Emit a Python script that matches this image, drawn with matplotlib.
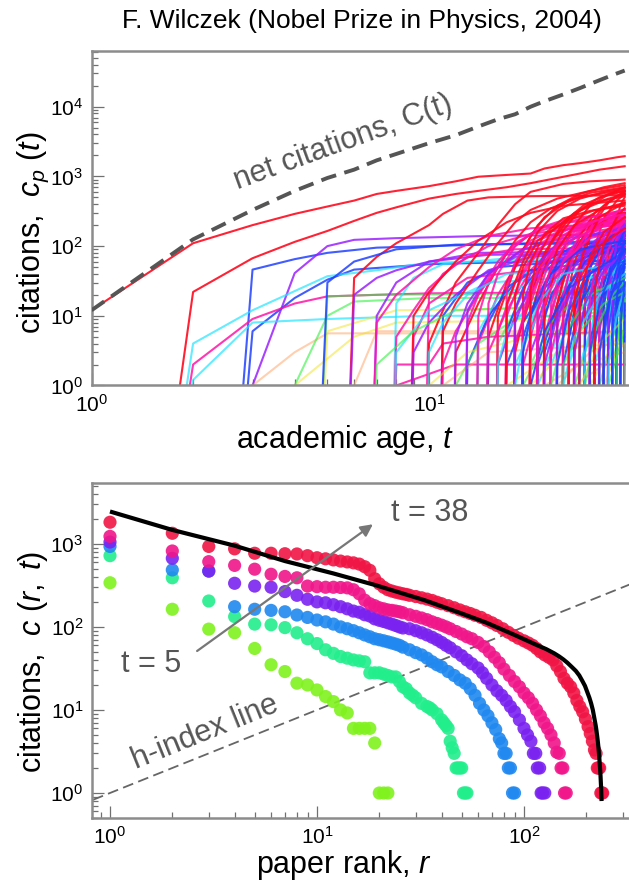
import numpy as np
import matplotlib
matplotlib.use('Agg')
import matplotlib.pyplot as plt
from matplotlib.ticker import LogLocator, NullFormatter

plt.rcParams['font.family'] = ['Liberation Sans', 'DejaVu Sans']
plt.rcParams['mathtext.fontset'] = 'custom'
plt.rcParams['mathtext.rm'] = 'Liberation Sans'
plt.rcParams['mathtext.it'] = 'Liberation Sans:italic'
plt.rcParams['mathtext.bf'] = 'Liberation Sans:bold'

# ---------------- top panel: citations of each paper vs academic age ----------------
net_age = [1, 2, 3, 4, 5, 6, 7, 8, 10, 12, 14, 16, 18, 20, 22, 25, 28, 32, 35, 38]
net_cites = [12, 125, 330, 620, 950, 1250, 1700, 2100, 3000, 3900, 5200, 6600, 7800,
             10000, 12000, 15000, 18500, 24000, 28500, 33000]

# each paper: (age, cumulative citations), 0 = not cited yet
papers_early = [
    [(1, 12), (2, 110), (3, 200), (4, 290), (5, 370), (6, 450), (7, 560), (8, 620), (10, 725),
     (12, 850), (14, 990), (17, 1050), (20, 1100), (22, 1300), (25, 1450), (28, 1550),
     (32, 1700), (36, 1880), (38, 1950)],
    [(1, 0), (2, 22), (3, 67), (4, 115), (5, 165), (6, 230), (7, 300), (8, 360), (10, 480),
     (12, 560), (14, 620), (17, 700), (20, 800), (24, 950), (28, 1100), (32, 1250), (38, 1400)],
    [(2, 0), (3, 46), (4, 65), (5, 80), (7, 95), (10, 100), (20, 110), (38, 120)],
    [(2, 0), (3, 1), (4, 41), (5, 100), (6, 123), (8, 130), (15, 140), (38, 146)],
    [(2, 0), (3, 6), (4, 18), (5, 33), (6, 46), (10, 55), (20, 60), (38, 62)],
    [(1, 0), (2, 4), (3, 12), (5, 37), (7, 45), (10, 58), (20, 62), (38, 64)],
    [(1, 0), (2, 1.2), (3, 8), (5, 9), (10, 10), (38, 10)],
    [(1, 0), (2, 2), (3, 9), (4, 15), (5, 19), (7, 20), (10, 21), (38, 22)],
    [(2, 0), (3, 1), (4, 3), (5, 5.6), (38, 5.6)],
    [(3, 0), (4, 1), (5, 10), (6, 16), (10, 18), (38, 18)],
    [(3, 0), (4, 1), (6, 5), (8, 8), (38, 9)],
    [(4, 0), (5, 19), (7, 20), (38, 21)],
    [(4, 0), (5, 6), (8, 12), (38, 13)],
    [(5, 0), (6, 35), (7, 70), (8, 110), (10, 200), (11, 290), (13, 450), (15, 500), (20, 520),
     (30, 530), (38, 540)],
    [(5, 0), (6, 20), (7, 35), (8, 45), (10, 60), (15, 75), (38, 80)],
    [(7, 0), (8, 2), (10, 2), (11, 4), (15, 5), (38, 6)],
    [(5, 0), (6, 1), (7, 6), (38, 6)],
    [(4, 0), (5, 30), (6, 60), (8, 90), (12, 105), (38, 110)],
    [(6, 0), (7, 10), (8, 30), (10, 60), (14, 80), (38, 85)],
    [(7, 0), (8, 15), (9, 35), (11, 55), (16, 65), (38, 70)],
    [(8, 0), (9, 5), (10, 15), (13, 35), (20, 45), (38, 48)],
    [(9, 0), (10, 20), (11, 40), (13, 70), (18, 90), (38, 95)],
    [(10, 0), (11, 10), (13, 30), (16, 50), (25, 60), (38, 62)],
    [(7, 0), (8, 1), (12, 2), (38, 2)],
]
colors_early = ['r', 'r', 'b', 'p', 'b', 'c', 'c', 'm', 'o', 'g', 'y', 'g', 'y', 'r', 'p', 'm', 'o',
                'b', 'p', 'c', 'm', 'm', 'b', 'm']

papers_mid = [
    [(9, 0), (10, 4), (11, 12), (12, 30), (14, 80), (16, 200), (18, 400), (20, 600), (25, 780),
     (30, 850), (38, 900)],
    [(6, 0), (7, 8), (8, 20), (10, 50), (12, 90), (15, 140), (20, 180), (38, 220)],
    [(7, 0), (8, 5), (9, 12), (10, 25), (12, 55), (15, 100), (20, 150), (30, 190), (38, 200)],
    [(8, 0), (9, 10), (10, 22), (12, 60), (14, 120), (17, 220), (20, 300), (25, 380), (38, 450)],
    [(8, 0), (9, 3), (10, 8), (12, 20), (15, 45), (20, 70), (38, 90)],
    [(7, 0), (8, 3), (10, 12), (15, 30), (38, 40)],
    [(6, 0), (7, 2), (9, 6), (12, 12), (38, 15)],
    [(10, 0), (11, 6), (12, 15), (14, 45), (16, 110), (18, 220), (20, 330), (24, 480), (30, 620),
     (38, 750)],
    [(10, 0), (11, 2), (12, 6), (14, 20), (16, 50), (20, 110), (25, 170), (38, 230)],
    [(11, 0), (12, 3), (14, 15), (16, 50), (18, 120), (20, 220), (23, 350), (28, 500), (38, 650)],
    [(12, 0), (13, 8), (14, 20), (16, 60), (18, 110), (22, 190), (30, 260), (38, 300)],
    [(13, 0), (14, 4), (16, 20), (18, 50), (20, 90), (25, 170), (38, 260)],
    [(12, 0), (13, 2), (15, 10), (18, 30), (22, 55), (30, 80), (38, 95)],
    [(11, 0), (12, 1), (14, 4), (18, 9), (38, 12)],
    [(9, 0), (10, 1), (13, 3), (20, 5), (38, 6)],
    [(10, 0), (11, 1), (15, 3), (38, 4)],
    [(14, 0), (15, 5), (17, 30), (19, 90), (21, 200), (24, 380), (28, 560), (33, 700), (38, 800)],
    [(15, 0), (16, 10), (18, 50), (20, 140), (22, 260), (26, 450), (30, 580), (38, 700)],
    [(14, 0), (15, 3), (17, 12), (20, 45), (24, 110), (30, 180), (38, 230)],
    [(15, 0), (16, 2), (18, 10), (21, 35), (25, 75), (30, 110), (38, 140)],
    [(16, 0), (17, 2), (19, 8), (22, 25), (26, 55), (32, 85), (38, 100)],
    [(12, 0), (13, 12), (15, 40), (18, 70), (25, 85), (38, 90)],
    [(13, 0), (14, 6), (16, 18), (20, 30), (38, 35)],
    [(14, 0), (15, 8), (17, 25), (20, 45), (28, 55), (38, 58)],
    [(15, 0), (16, 4), (18, 12), (22, 22), (38, 26)],
    [(16, 0), (17, 25), (18, 60), (20, 120), (24, 180), (30, 210), (38, 230)],
    [(16, 0), (17, 6), (19, 25), (22, 60), (27, 100), (38, 130)],
    [(16, 0), (17, 1), (24, 3), (38, 5)],
    [(11, 0), (12, 5), (13, 15), (15, 40), (19, 90), (25, 130), (38, 150)],
    [(13, 0), (14, 10), (15, 30), (17, 80), (20, 150), (26, 220), (38, 260)],
    [(9, 0), (10, 3), (11, 8), (13, 20), (17, 40), (38, 50)],
    [(14, 0), (15, 15), (16, 40), (18, 100), (21, 180), (26, 250), (38, 300)],
    [(15, 0), (16, 6), (18, 30), (21, 90), (26, 160), (38, 210)],
    [(16, 0), (17, 10), (19, 40), (22, 110), (27, 200), (38, 280)],
    [(15, 0), (16, 2), (17, 6), (20, 15), (28, 25), (38, 28)],
]
colors_mid = ['r', 'm', 'm', 'r', 'p', 'c', 'g', 'r', 'm', 'r', 'm', 'm', 'b', 'g', 'y', 'o',
              'r', 'r', 'm', 'p', 'b', 'p', 'c', 'b', 'g', 'm', 'b', 'y', 'p', 'm', 'c',
              'm', 'm', 'm', 'c']

papers_late = [
    [(16, 0), (17, 15), (19, 60), (21, 160), (24, 320), (28, 480), (33, 600), (38, 680)],
    [(17, 0), (18, 3), (20, 25), (22, 80), (25, 220), (29, 400), (34, 560), (38, 620)],
    [(18, 0), (19, 8), (21, 40), (23, 110), (26, 250), (30, 400), (38, 560)],
    [(17, 0), (18, 4), (20, 20), (23, 70), (27, 160), (32, 260), (38, 330)],
    [(18, 0), (19, 2), (21, 12), (24, 45), (28, 120), (33, 200), (38, 250)],
    [(19, 0), (20, 6), (22, 30), (25, 90), (29, 180), (34, 260), (38, 300)],
    [(19, 0), (20, 10), (22, 50), (25, 170), (28, 330), (32, 500), (38, 620)],
    [(19, 0), (20, 3), (23, 18), (27, 60), (32, 120), (38, 170)],
    [(20, 0), (21, 2), (24, 15), (28, 50), (33, 100), (38, 140)],
    [(20, 0), (21, 1), (25, 8), (30, 25), (38, 45)],
    [(18, 0), (19, 1), (22, 4), (27, 10), (38, 18)],
    [(19, 0), (20, 1), (25, 3), (38, 6)],
    [(21, 0), (22, 12), (24, 60), (27, 200), (30, 380), (34, 550), (38, 700)],
    [(22, 0), (23, 6), (25, 35), (28, 140), (31, 300), (35, 480), (38, 580)],
    [(21, 0), (22, 5), (24, 25), (27, 80), (31, 170), (35, 250), (38, 300)],
    [(22, 0), (23, 3), (25, 15), (28, 55), (32, 130), (38, 220)],
    [(23, 0), (24, 4), (26, 20), (29, 60), (33, 120), (38, 170)],
    [(24, 0), (25, 2), (27, 12), (30, 40), (34, 90), (38, 130)],
    [(25, 0), (26, 5), (28, 25), (31, 70), (35, 120), (38, 150)],
    [(24, 0), (25, 10), (27, 60), (30, 200), (33, 380), (36, 520), (38, 600)],
    [(26, 0), (27, 15), (29, 80), (31, 220), (34, 420), (38, 620)],
    [(26, 0), (27, 5), (29, 30), (32, 110), (35, 200), (38, 260)],
    [(25, 0), (26, 2), (29, 10), (33, 30), (38, 55)],
    [(26, 0), (27, 1), (30, 5), (34, 12), (38, 20)],
    [(23, 0), (24, 1), (30, 3), (38, 5)],
    [(27, 0), (28, 6), (30, 30), (33, 80), (36, 130), (38, 160)],
    [(28, 0), (29, 8), (31, 40), (34, 110), (38, 190)],
    [(28, 0), (29, 20), (31, 100), (33, 250), (36, 450), (38, 560)],
    [(29, 0), (30, 4), (32, 25), (35, 75), (38, 120)],
    [(30, 0), (31, 10), (33, 45), (36, 100), (38, 140)],
    [(30, 0), (31, 15), (33, 70), (36, 180), (38, 260)],
    [(30, 0), (31, 2), (34, 12), (38, 35)],
    [(31, 0), (32, 6), (34, 35), (36, 80), (38, 115)],
    [(32, 0), (33, 8), (35, 40), (37, 85), (38, 105)],
    [(31, 0), (32, 1), (35, 5), (38, 12)],
    [(33, 0), (34, 10), (36, 50), (38, 90)],
    [(33, 0), (34, 3), (36, 15), (38, 30)],
    [(34, 0), (35, 12), (37, 55), (38, 80)],
    [(34, 0), (35, 2), (37, 8), (38, 14)],
    [(35, 0), (36, 15), (37, 45), (38, 70)],
    [(35, 0), (36, 5), (38, 25)],
    [(32, 0), (33, 1), (36, 3), (38, 5)],
    [(36, 0), (37, 3), (38, 10)],
    [(36, 0), (37, 20), (38, 60)],
    [(32, 0), (33, 30), (35, 150), (37, 400), (38, 500)],
    [(33, 0), (34, 20), (36, 110), (38, 250)],
    [(17, 0), (18, 12), (20, 40), (23, 90), (28, 140), (38, 170)],
    [(17, 0), (18, 2), (21, 10), (26, 30), (38, 45)],
    [(18, 0), (19, 20), (20, 60), (22, 150), (25, 250), (30, 320), (38, 380)],
    [(18, 0), (19, 5), (21, 20), (24, 55), (30, 100), (38, 120)],
    [(19, 0), (20, 2), (23, 8), (28, 20), (38, 30)],
    [(20, 0), (21, 8), (23, 35), (26, 90), (31, 150), (38, 190)],
    [(20, 0), (21, 20), (23, 70), (26, 160), (30, 260), (38, 330)],
    [(21, 0), (22, 3), (25, 20), (29, 60), (38, 110)],
    [(22, 0), (23, 10), (25, 45), (28, 120), (33, 200), (38, 240)],
    [(22, 0), (23, 2), (26, 8), (31, 20), (38, 30)],
    [(23, 0), (24, 15), (26, 60), (29, 150), (34, 250), (38, 300)],
    [(24, 0), (25, 6), (27, 30), (31, 90), (38, 160)],
    [(25, 0), (26, 3), (28, 15), (32, 45), (38, 80)],
    [(26, 0), (27, 8), (29, 40), (32, 110), (38, 190)],
    [(27, 0), (28, 2), (31, 10), (35, 30), (38, 45)],
    [(28, 0), (29, 5), (31, 30), (34, 80), (38, 140)],
    [(29, 0), (30, 10), (32, 50), (35, 130), (38, 210)],
    [(30, 0), (31, 4), (33, 20), (36, 60), (38, 90)],
    [(31, 0), (32, 12), (34, 60), (36, 130), (38, 180)],
    [(32, 0), (33, 3), (35, 18), (37, 45), (38, 60)],
    [(33, 0), (34, 6), (36, 35), (38, 75)],
    [(34, 0), (35, 20), (37, 90), (38, 140)],
    [(35, 0), (36, 8), (37, 30), (38, 50)],
    [(36, 0), (37, 6), (38, 25)],
    [(37, 0), (38, 8)],
    [(37, 0), (38, 30)],
    [(29, 0), (30, 1), (34, 3), (38, 6)],
    [(26, 0), (27, 1), (33, 2), (38, 4)],
    [(21, 0), (22, 1), (28, 2), (38, 3)],
    [(17, 0), (18, 20), (19, 50), (21, 120), (25, 220), (31, 330), (38, 400)],
    [(17, 0), (18, 8), (20, 30), (23, 60), (30, 90), (38, 100)],
    [(18, 0), (19, 12), (21, 45), (24, 100), (30, 160), (38, 190)],
    [(19, 0), (20, 15), (22, 60), (25, 140), (30, 220), (38, 280)],
    [(20, 0), (21, 4), (23, 20), (26, 50), (32, 90), (38, 110)],
    [(21, 0), (22, 25), (24, 90), (27, 200), (32, 330), (38, 420)],
    [(22, 0), (23, 15), (25, 60), (28, 140), (33, 220), (38, 260)],
    [(23, 0), (24, 8), (26, 40), (30, 100), (38, 150)],
    [(24, 0), (25, 20), (27, 80), (30, 180), (35, 300), (38, 340)],
    [(25, 0), (26, 12), (28, 50), (31, 120), (38, 200)],
    [(26, 0), (27, 25), (29, 100), (32, 260), (38, 420)],
    [(27, 0), (28, 12), (30, 50), (34, 130), (38, 180)],
    [(28, 0), (29, 3), (32, 20), (36, 50), (38, 65)],
    [(29, 0), (30, 20), (32, 80), (35, 180), (38, 250)],
    [(30, 0), (31, 6), (33, 30), (36, 80), (38, 110)],
    [(31, 0), (32, 20), (34, 90), (37, 200), (38, 230)],
    [(32, 0), (33, 15), (35, 70), (37, 140), (38, 160)],
    [(33, 0), (34, 25), (36, 110), (38, 200)],
    [(34, 0), (35, 5), (37, 30), (38, 55)],
    [(35, 0), (36, 25), (37, 80), (38, 120)],
    [(36, 0), (37, 12), (38, 40)],
    [(24, 0), (25, 2), (28, 6), (33, 15), (38, 22)],
    [(27, 0), (28, 1), (32, 4), (38, 9)],
    [(33, 0), (34, 1), (37, 4), (38, 7)],
    [(17, 0), (18, 1), (19, 4), (21, 15), (25, 40), (38, 60)],
    [(18, 0), (19, 3), (20, 10), (23, 40), (28, 90), (38, 120)],
    [(19, 0), (20, 1), (22, 6), (26, 25), (32, 50), (38, 60)],
    [(20, 0), (21, 5), (22, 15), (25, 60), (30, 130), (38, 170)],
    [(21, 0), (22, 2), (24, 10), (28, 35), (38, 70)],
    [(22, 0), (23, 1), (25, 5), (30, 20), (38, 35)],
    [(23, 0), (24, 2), (26, 12), (30, 40), (38, 85)],
    [(24, 0), (25, 1), (27, 5), (32, 20), (38, 40)],
    [(25, 0), (26, 8), (28, 35), (32, 100), (38, 180)],
    [(26, 0), (27, 3), (29, 15), (33, 45), (38, 80)],
    [(27, 0), (28, 20), (30, 70), (33, 160), (38, 260)],
    [(28, 0), (29, 1), (31, 6), (35, 20), (38, 30)],
    [(29, 0), (30, 3), (32, 15), (35, 50), (38, 90)],
    [(30, 0), (31, 25), (33, 110), (36, 260), (38, 350)],
    [(31, 0), (32, 3), (34, 15), (37, 45), (38, 55)],
    [(32, 0), (33, 5), (35, 30), (37, 70), (38, 85)],
    [(33, 0), (34, 2), (36, 10), (38, 25)],
    [(34, 0), (35, 8), (37, 40), (38, 65)],
    [(35, 0), (36, 3), (37, 10), (38, 18)],
    [(36, 0), (37, 8), (38, 30)],
    [(37, 0), (38, 15)],
    [(37, 0), (38, 4)],
    [(19, 0), (20, 25), (21, 70), (23, 160), (27, 300), (33, 450), (38, 520)],
    [(20, 0), (21, 12), (23, 50), (26, 130), (31, 230), (38, 290)],
]
colors_late = ['r', 'r', 'r', 'm', 'm', 'm', 'r', 'p', 'b', 'c', 'g', 'y', 'r', 'r', 'm', 'm',
               'p', 'b', 'b', 'r', 'r', 'm', 'c', 'g', 'o', 'b', 'p', 'r', 'b', 'b', 'm', 'c',
               'b', 'b', 'g', 'b', 'c', 'b', 'g', 'b', 'c', 'y', 'g', 'b', 'r', 'm',
               'p', 'c', 'r', 'b', 'g', 'p', 'm', 'b', 'm', 'c', 'r', 'p', 'b', 'm', 'c',
               'b', 'p', 'b', 'm', 'c', 'b', 'p', 'b', 'g', 'c', 'b', 'y', 'o', 'o',
               'r', 'p', 'm', 'm', 'b', 'r', 'm', 'p', 'm', 'p', 'r', 'b', 'c', 'm', 'b',
               'm', 'b', 'p', 'b', 'b', 'b', 'g', 'y', 'g',
               'c', 'b', 'b', 'm', 'p', 'g', 'b', 'c', 'r', 'p', 'r', 'g', 'b', 'r', 'b',
               'b', 'c', 'b', 'g', 'b', 'b', 'y', 'r', 'm']

# ---------------- bottom panel: rank-ordered citations at several ages ----------------
rank_t5 = list(range(1, 23))
cites_t5 = [340, 163, 94, 85, 55, 35, 29, 21, 20, 17.4, 14.5, 12.6, 10, 9.2, 6, 6, 6, 6, 4, 1, 1, 1]

rank_t10 = list(range(1, 23)) + [23, 24, 25, 26, 27, 28, 29, 30, 32, 34,
                                  35, 36, 38, 40, 41, 42, 43, 44, 45, 46,
                                  47, 48, 49, 50, 51, 52, 53]
cites_t10 = [720, 390, 205, 133, 108, 106, 98, 85, 72, 63, 53, 48, 44, 42, 40, 39, 38, 28, 28, 28,
             27, 26,
             25, 25, 22, 19, 18, 16, 15, 14, 12, 11,
             10.6, 10, 9, 7.6, 7, 6.5, 6, 4.2, 3.5, 3,
             2, 2, 2, 2, 1, 1, 1]

rank_t15 = list(range(1, 21)) + [21, 22, 23, 24, 25, 26, 28, 30, 32, 34,
                                  36, 38, 40, 43, 46, 49, 52, 55, 58, 61,
                                  64, 67, 70, 73, 76, 78, 80, 82, 84, 86, 88, 90]
cites_t15 = [930, 485, 470, 175, 163, 158, 152, 139, 130, 121, 115, 108, 100, 95, 90, 85, 80, 76,
             72, 70,
             68, 66, 64, 62, 60, 57, 53, 49, 46, 42,
             38, 35, 33, 29, 26, 23, 21, 18, 15, 12,
             10, 8.5, 7, 5.8, 4.5, 4, 3, 3, 2, 2, 1, 1]

rank_t20 = list(range(1, 21)) + [21, 22, 23, 24, 25, 26, 28, 30, 32, 34,
                                  36, 38, 40, 42, 44, 47, 50, 53, 56, 60,
                                  63, 66, 70, 74, 78, 82, 86, 90, 95, 100,
                                  104, 108, 111, 114, 116, 119, 121, 123, 126]
cites_t20 = [1050, 670, 470, 335, 310, 300, 266, 240, 215, 200, 195, 185, 175, 165, 155, 150, 140,
             135, 125, 120,
             116, 112, 108, 104, 100, 97, 95, 90, 85, 80,
             75, 70, 65, 60, 56, 50, 45, 40, 36, 32,
             28, 24, 20, 17, 15, 13, 11, 9.5, 7.6, 6,
             5, 4.2, 3, 3, 2, 2, 1, 1, 1]

rank_t30 = list(range(1, 23)) + [23, 24, 25, 26, 28, 30, 32, 34, 36, 38,
                                  40, 42, 44, 47, 50, 53, 56, 60, 64, 68,
                                  72, 76, 80, 85, 90, 95, 100, 105, 110, 115,
                                  120, 125, 130, 135, 140, 144, 148, 151, 154, 157, 160]
cites_t30 = [1230, 820, 610, 550, 495, 430, 405, 390, 310, 305, 300, 300, 298, 295, 280, 250, 210,
             190, 180, 170, 165, 160,
             158, 155, 152, 148, 140, 134, 128, 122, 115, 110,
             105, 100, 95, 88, 82, 76, 72, 65, 58, 50,
             43, 37, 31, 26, 22, 19, 16, 14, 12, 10,
             8.5, 7, 6, 5, 4, 3.1, 3, 2, 2, 1, 1]

rank_t38 = list(range(1, 23)) + [23, 24, 25, 26, 27, 28, 30, 32, 34, 36,
                                  38, 40, 43, 46, 49, 52, 55, 58, 62, 66,
                                  70, 74, 79, 84, 89, 94, 100, 105, 110, 115,
                                  120, 126, 132, 138, 144, 150, 156, 162, 168, 174,
                                  180, 186, 192, 198, 204, 209, 214, 219, 223, 226,
                                  229, 232, 235, 238, 240]
cites_t38 = [1820, 1340, 930, 870, 770, 770, 760, 755, 720, 680, 660, 640, 620, 605, 590, 570, 530,
             480, 380, 330, 300, 280,
             270, 262, 256, 250, 246, 240, 232, 224, 216, 208,
             198, 190, 180, 170, 160, 152, 145, 138, 130, 120,
             112, 104, 95, 86, 79, 73, 68, 64, 60, 55,
             50, 46, 43, 40, 34, 29, 24, 21, 19, 16,
             13, 11, 9.5, 7.8, 6.3, 5.2, 4.2, 3.3, 3, 2,
             2, 2, 1, 1, 1]

fit_rank = [1, 2, 4, 7, 12, 19, 33, 50, 66, 90, 116, 128, 140, 148, 155, 162, 170, 178, 185, 192,
            197, 202, 207, 211, 215, 218, 222, 224, 227, 229, 231, 234, 236, 237]
fit_cites = [2450, 1470, 950, 620, 440, 320, 210, 145, 112, 80, 60, 54, 48, 44, 40.5, 37, 33,
             29.5, 26, 22, 19.5, 16.5, 14, 12, 10, 8.3, 6.5, 5.6, 4.3, 3.5, 2.7, 1.7, 1.1, 0.8]

# ---------------- styling ----------------
line_col = {'r': '#ff0a1e', 'm': '#ff14a8', 'p': '#9a20ff', 'b': '#2040ff',
            'c': '#22e4ff', 'g': '#30f040', 'y': '#f2e020', 'o': '#ffa060'}
line_alpha = {'r': 0.9, 'm': 0.85, 'p': 0.85, 'b': 0.85, 'c': 0.7, 'g': 0.6, 'y': 0.5, 'o': 0.5}
spine_col = '#8c8c8c'
text_col = '#555555'


def style_axes(ax):
    for s in ['left', 'bottom', 'top']:
        ax.spines[s].set_color(spine_col)
        ax.spines[s].set_linewidth(1.8)
    ax.spines['right'].set_visible(False)
    ax.tick_params(which='both', direction='in', color='#707070', width=0.9,
                   labelsize=15, top=False, right=False)
    ax.tick_params(which='major', length=8.5, pad=6)
    ax.tick_params(which='minor', length=4)
    ax.xaxis.set_minor_locator(LogLocator(base=10, subs=np.arange(2, 10), numticks=20))
    ax.yaxis.set_minor_locator(LogLocator(base=10, subs=np.arange(2, 10), numticks=20))
    ax.xaxis.set_minor_formatter(NullFormatter())
    ax.yaxis.set_minor_formatter(NullFormatter())


W, H = 629, 888
fig = plt.figure(figsize=(W / 100, H / 100), dpi=100)

# top axes
ax1 = fig.add_axes([91.5 / W, 1 - 385.5 / H, (645 - 91.5) / W, (385.5 - 51) / H])
ax1.set_xscale('log')
ax1.set_yscale('log')

for group, cols in [(papers_early, colors_early), (papers_mid, colors_mid), (papers_late, colors_late)]:
    for traj, key in zip(group, cols):
        t = [p[0] for p in traj]
        c = np.maximum([p[1] for p in traj], 1e-9)
        ax1.plot(t, c, color=line_col[key], alpha=line_alpha[key], lw=1.5, zorder=2)

ax1.plot(net_age, net_cites, color='#555555', lw=2.8, dashes=(4, 2.2), zorder=3)

ax1.set_xlim(1, 10 ** ((645 - 91.5) / 337.5))
ax1.set_ylim(1, 6.3e4)
ax1.set_xticks([1, 10])
ax1.set_yticks([1, 10, 100, 1000, 10000])
style_axes(ax1)

ax1.text(5.56, 3080, 'net citations, C(t)', rotation=20, fontsize=22, color=text_col,
         ha='center', va='center')

# bottom axes
ax2 = fig.add_axes([91.7 / W, 1 - 818 / H, (645 - 91.7) / W, (818 - 483) / H])
ax2.set_xscale('log')
ax2.set_yscale('log')

series = [(rank_t5, cites_t5, '#80f21e'), (rank_t10, cites_t10, '#22ee8c'),
          (rank_t15, cites_t15, '#2088f0'), (rank_t20, cites_t20, '#7a22f0'),
          (rank_t30, cites_t30, '#f0168a'), (rank_t38, cites_t38, '#f01545')]
for r, c, col in series:
    ax2.scatter(r, c, s=90, color=col, edgecolors='none', alpha=0.9, zorder=3)

ax2.plot(fit_rank, fit_cites, color='black', lw=3, zorder=4, solid_capstyle='butt')

hx = np.array([0.5, 1000])
ax2.plot(hx, hx, color='#666666', lw=1.3, dashes=(6, 3), zorder=2)

ax2.annotate('', xy=(19.1, 1800), xytext=(2.57, 49),
             arrowprops=dict(arrowstyle='-|>', color='#777777', lw=1.6, mutation_scale=18),
             zorder=5)
ax2.text(1.58, 35.8, 't = 5', fontsize=22, color=text_col, ha='center', va='center')
ax2.text(35.2, 2360, 't = 38', fontsize=22, color=text_col, ha='center', va='center')
ax2.text(2.88, 5.3, 'h-index line', rotation=22, fontsize=22, color=text_col,
         ha='center', va='center')

ax2.set_xlim(10 ** (-18.3 / 207), 10 ** ((645 - 110) / 207))
ax2.set_ylim(0.5, 5400)
ax2.set_xticks([1, 10, 100])
ax2.set_yticks([1, 10, 100, 1000])
style_axes(ax2)

# labels
fig.text(362 / W, 1 - 21 / H, 'F. Wilczek (Nobel Prize in Physics, 2004)', fontsize=19,
         ha='center', va='center')
fig.text(33 / W, 1 - 233 / H, 'citations,  $c_p\\ (t)$', fontsize=22, rotation=90,
         ha='center', va='center')
fig.text(345 / W, 1 - 440 / H, 'academic age, $t$', fontsize=22, ha='center', va='center')
fig.text(33 / W, 1 - 662 / H, 'citations,  $c\\ (r,\\ t)$', fontsize=22, rotation=90,
         ha='center', va='center')
fig.text(344 / W, 1 - 865 / H, 'paper rank, $r$', fontsize=22, ha='center', va='center')

fig.savefig('out.png', dpi=100)
